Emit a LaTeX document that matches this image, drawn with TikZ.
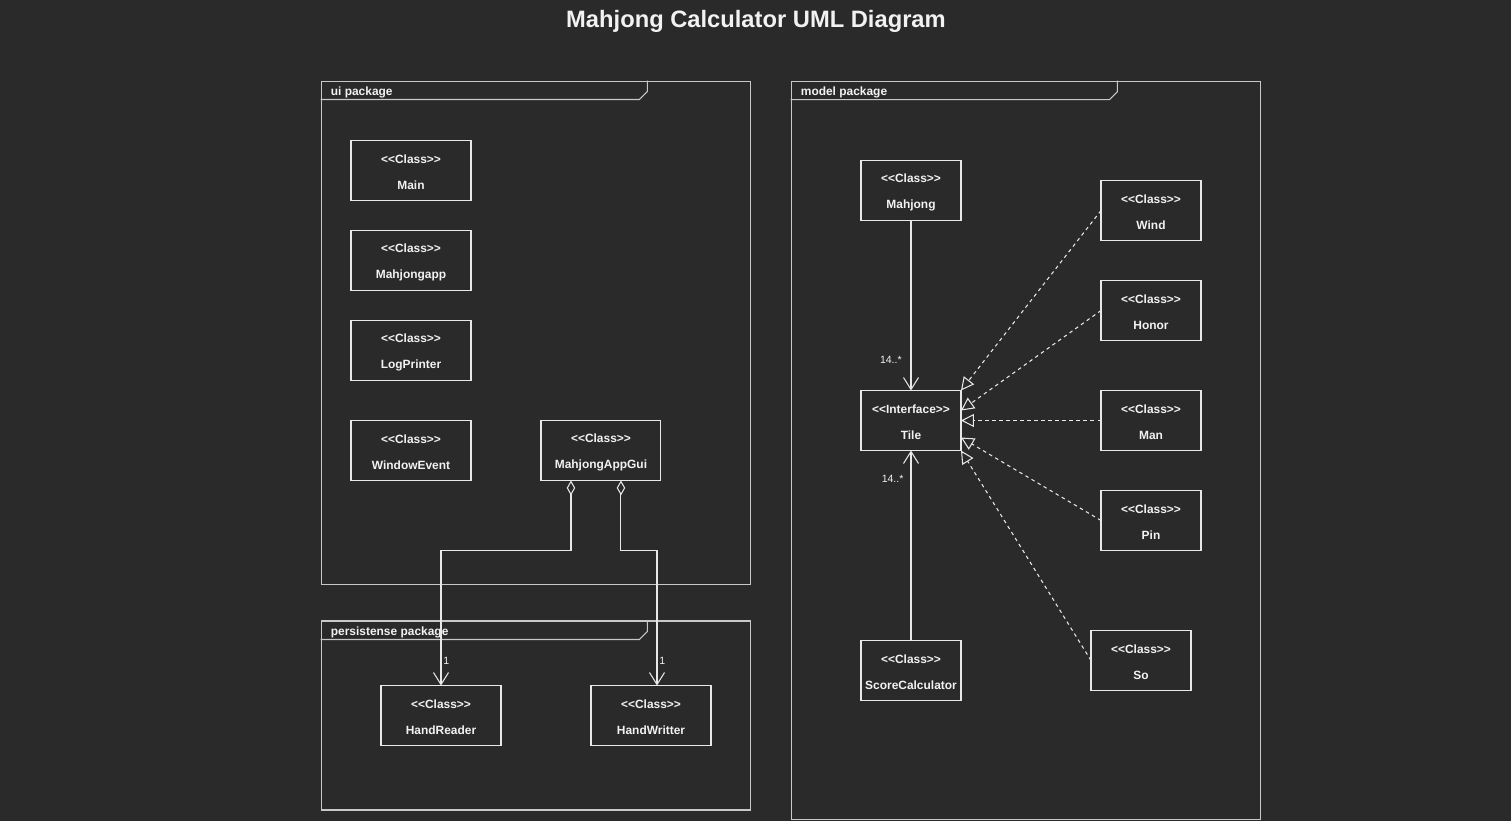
\documentclass[tikz,border=0pt]{standalone}
\usepackage{fontspec}
\setmainfont{Liberation Sans}
\usetikzlibrary{arrows.meta,positioning}
\definecolor{bgdark}{HTML}{2A2A2A}
\definecolor{frameline}{HTML}{C8C8C8}
\definecolor{boxline}{HTML}{E8E8E8}
\definecolor{umltext}{HTML}{F2F2F2}
\newcommand{\stereo}[1]{\rule{0pt}{7pt}<\kern0pt<#1>\kern0pt>}

\begin{document}
\begin{tikzpicture}[x=0.02cm, y=-0.02cm,
  node distance=0.6cm and 1.4cm,
  pkg/.style={draw=frameline, line width=0.6pt, minimum width=8.6cm, inner sep=0pt},
  pkglabel/.style={text=umltext, font=\bfseries\fontsize{6.8}{8}\selectfont, anchor=west, inner sep=0pt},
  cls/.style={draw=boxline, line width=0.6pt, minimum width=2.4cm, minimum height=1.2cm, align=center, text=umltext, font=\bfseries\fontsize{6.8}{14.7}\selectfont, inner sep=0pt, outer sep=0pt},
  mcls/.style={cls, minimum width=2cm},
  assoc/.style={draw=boxline, line width=0.6pt, -{Straight Barb[length=0.24cm, width=0.3cm]}},
  aggr/.style={assoc, {Diamond[open, length=0.3cm, width=0.17cm, fill=bgdark]}-{Straight Barb[length=0.24cm, width=0.3cm]}},
  real/.style={draw=boxline, line width=0.6pt, dash pattern=on 2pt off 2pt, -{Triangle[open, length=0.26cm, width=0.26cm, fill=bgdark]}},
  mult/.style={text=umltext, font=\fontsize{6}{7}\selectfont, inner sep=1pt}
]

\fill[bgdark] (0,0) rectangle (1511,821);
\useasboundingbox (0,0) rectangle (1511,821);

\node[text=umltext, font=\bfseries\fontsize{13.5}{16}\selectfont] (title) at (756,21) {Mahjong Calculator UML Diagram};

\node[pkg, minimum height=10.08cm] (uipkg) at (536,333) {};
\node[pkg, minimum height=3.78cm] (perpkg) at (536,715.5) {};
\node[pkg, minimum width=9.4cm, minimum height=14.78cm] (modpkg) at (1026,450.5) {};
\foreach \p in {uipkg,perpkg,modpkg}
  \draw[frameline, line width=0.6pt] ([yshift=-0.38cm]\p.north west) -- ++(6.38cm,0) -- ++(0.16cm,0.16cm) -- ([xshift=6.54cm]\p.north west);
\node[pkglabel] (uilabel) at ([xshift=0.2cm, yshift=-0.24cm]uipkg.north west) {ui package};
\node[pkglabel] (perlabel) at ([xshift=0.2cm, yshift=-0.24cm]perpkg.north west) {persistense package};
\node[pkglabel] (modlabel) at ([xshift=0.2cm, yshift=-0.24cm]modpkg.north west) {model package};

\node[cls] (main) at (411,170.5) {\stereo{Class}\\Main};
\node[cls, below=of main] (app) {\stereo{Class}\\Mahjongapp};
\node[cls, below=of app] (log) {\stereo{Class}\\LogPrinter};
\node[cls, below=0.8cm of log] (window) {\stereo{Class}\\WindowEvent};
\node[cls, right=of window] (gui) {\stereo{Class}\\MahjongAppGui};

\node[cls] (reader) at (441,715.5) {\stereo{Class}\\HandReader};
\node[cls] (writer) at (651,715.5) {\stereo{Class}\\HandWritter};

\node[mcls] (mahjong) at (911,190.5) {\stereo{Class}\\Mahjong};
\node[mcls] (tile) at (911,420.5) {\stereo{Interface}\\Tile};
\node[mcls] (score) at (911,670.5) {\stereo{Class}\\ScoreCalculator};
\node[mcls] (wind) at (1151,210.5) {\stereo{Class}\\Wind};
\node[mcls, below=0.8cm of wind] (honor) {\stereo{Class}\\Honor};
\node[mcls] (man) at (1151,420.5) {\stereo{Class}\\Man};
\node[mcls, below=0.8cm of man] (pin) {\stereo{Class}\\Pin};
\node[mcls] (so) at (1141,660.5) {\stereo{Class}\\So};

\draw[aggr] ([xshift=-0.6cm]gui.south) -- ++(0,70) -| node[mult, pos=0.91, right=0pt] {1} (reader.north);
\draw[aggr] ([xshift=0.4cm]gui.south) -- ++(0,70) -| node[mult, pos=0.91, right=0pt] {1} ([xshift=0.12cm]writer.north);

\draw[assoc] (mahjong) -- node[mult, pos=0.82, left=4pt] {14..*} (tile);
\draw[assoc] (score) -- node[mult, pos=0.85, left=3pt] {14..*} (tile);

\draw[real] (wind.west) -- (tile.north east);
\draw[real] (honor.west) -- ([yshift=-0.4cm]tile.north east);
\draw[real] (man.west) -- (tile.east);
\draw[real] (pin.west) -- ([yshift=0.26cm]tile.south east);
\draw[real] (so.west) -- (tile.south east);

\end{tikzpicture}
\end{document}
